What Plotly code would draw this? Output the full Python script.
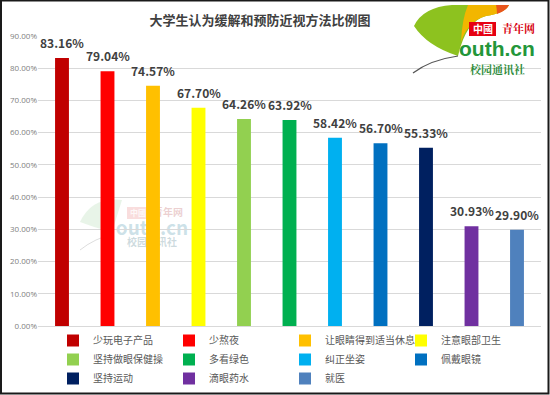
import plotly.graph_objects as go

title = "大学生认为缓解和预防近视方法比例图"
categories = ["少玩电子产品", "少熬夜", "让眼睛得到适当休息", "注意眼部卫生",
              "坚持做眼保健操", "多看绿色", "纠正坐姿", "佩戴眼镜",
              "坚持运动", "滴眼药水", "就医"]
values = [83.16, 79.04, 74.57, 67.70, 64.26, 63.92, 58.42, 56.70, 55.33, 30.93, 29.90]
colors = ["#C00000", "#FF0000", "#FFC000", "#FFFF00", "#92D050", "#00B050",
          "#00B0F0", "#0070C0", "#002060", "#7030A0", "#4F81BD"]
y_ticks = [0, 10, 20, 30, 40, 50, 60, 70, 80, 90]
y_tick_labels = [f"{v:.2f}%" for v in y_ticks]

FONT = "Noto Sans CJK SC, Open Sans, sans-serif"

fig = go.Figure()
for cat, val, col in zip(categories, values, colors):
    fig.add_trace(go.Bar(
        x=[cat], y=[val], name=cat, marker=dict(color=col, line=dict(width=0)),
        width=0.305, hoverinfo="name+y",
    ))

# data labels
for cat, val in zip(categories, values):
    fig.add_annotation(x=cat, y=val, text=f"{val:.2f}%", showarrow=False,
                       xanchor="center", yanchor="bottom", yshift=5,
                       font=dict(family=FONT, size=12, color="#404040", weight="bold"))

L, R, T, B = 38, 9, 36, 69
W, H = 550, 395
pw, ph = W - L - R, H - T - B

def px(xpix):
    return (xpix - L) / pw

def py(ypix):
    return (H - B - ypix) / ph

def path(pts):
    s = ""
    for cmd, coords in pts:
        s += cmd + " " + " ".join(f"{px(x):.5f},{py(y):.5f}" for x, y in coords) + " "
    return s + "Z"

def logo_text(txt, cx, cy, size, color, family):
    fig.add_annotation(xref="paper", yref="paper", x=px(cx), y=py(cy), text=txt,
                       xanchor="center", yanchor="middle", showarrow=False,
                       font=dict(family=family, size=size, color=color, weight="bold"))

# faint watermark in the middle (below traces)
fig.add_shape(type="path", xref="paper", yref="paper", layer="below",
              path=path([("M", [(80, 222)]), ("Q", [(92, 196), (122, 200)]),
                         ("L", [(112, 232)]), ("Q", [(95, 228), (80, 222)])]),
              fillcolor="rgba(150,205,150,0.22)", line=dict(width=0))
fig.add_shape(type="path", xref="paper", yref="paper", layer="below",
              path=f"M {px(80)},{py(250)} Q {px(95)},{py(238)} {px(114)},{py(234)}",
              line=dict(color="rgba(120,120,120,0.25)", width=1))
fig.add_shape(type="rect", xref="paper", yref="paper", layer="below",
              x0=px(127), x1=px(149), y0=py(219), y1=py(207),
              fillcolor="rgba(230,120,120,0.25)", line=dict(width=0))
wm = [
    ("中國", 138, 213, 8, "rgba(255,255,255,0.8)"),
    ("青年网", 168, 213, 10, "rgba(200,120,120,0.35)"),
    ("outh.cn", 152, 229, 19, "rgba(110,170,190,0.35)"),
    ("校园通讯社", 152, 243, 10, "rgba(110,150,160,0.35)"),
]
for txt, cx, cy, sz, c in wm:
    fig.add_shape(type="rect", xref="paper", yref="paper",
                  x0=px(cx - 40), x1=px(cx + 40), y0=py(cy + 8), y1=py(cy - 8),
                  line=dict(width=0), fillcolor="rgba(0,0,0,0)", layer="below",
                  label=dict(text=txt, font=dict(family="Noto Sans CJK SC", size=sz, color=c,
                                                  weight="bold"),
                             textposition="middle center"))

# top-right logo: ginkgo leaf
fig.add_shape(type="path", xref="paper", yref="paper",
              path=path([("M", [(414, 26)]), ("Q", [(423, 7), (452, 5)]),
                         ("L", [(509, 5)]), ("Q", [(505, 13), (486, 16)]),
                         ("Q", [(466, 21), (458, 56)]), ("Q", [(427, 46), (414, 26)])]),
              fillcolor="#8DC21F", line=dict(width=0))
fig.add_shape(type="path", xref="paper", yref="paper",
              path=path([("M", [(468, 5)]), ("L", [(509, 5)]), ("Q", [(505, 13), (486, 16)]),
                         ("Q", [(468, 21), (461, 42)]), ("Q", [(462, 19), (468, 5)])]),
              fillcolor="#F2B600", line=dict(width=0))
fig.add_shape(type="path", xref="paper", yref="paper",
              path=path([("M", [(496, 5)]), ("L", [(509, 5)]), ("Q", [(506, 11), (497, 14)]),
                         ("Q", [(497, 9), (496, 5)])]),
              fillcolor="#E8551C", line=dict(width=0))
fig.add_shape(type="path", xref="paper", yref="paper",
              path=f"M {px(413)},{py(73)} Q {px(430)},{py(60)} {px(458)},{py(56)}",
              line=dict(color="#555555", width=1.2))
fig.add_shape(type="rect", xref="paper", yref="paper",
              x0=px(469), x1=px(496), y0=py(36), y1=py(22),
              fillcolor="#E60012", line=dict(width=0))
logo_text("中國", 482.5, 28.5, 10, "white", "Noto Sans CJK SC")
logo_text("青年网", 518, 28, 11, "#D7000F", "Noto Serif CJK SC, Noto Sans CJK SC")
logo_text("outh.cn", 497, 48.5, 21, "#23963A", "Arial, Liberation Sans")
logo_text("校园通讯社", 497, 69.5, 11, "#2E8B3A", "Noto Serif CJK SC, Noto Sans CJK SC")

# outer dark frame
fig.add_shape(type="rect", xref="paper", yref="paper",
              x0=px(1), x1=px(548.5), y0=py(393.5), y1=py(0.5),
              line=dict(color="#1a1a1a", width=2), fillcolor="rgba(0,0,0,0)")

fig.update_layout(
    width=W, height=H,
    margin=dict(l=L, r=R, t=T, b=B, autoexpand=False),
    paper_bgcolor="white", plot_bgcolor="white",
    barmode="overlay",
    title=dict(text=title, x=260 / W, xref="container", xanchor="center",
               y=1 - 20 / H, yanchor="middle",
               font=dict(family=FONT, size=13, color="#404040", weight="bold")),
    xaxis=dict(showticklabels=False, showgrid=False, zeroline=False,
               showline=True, linecolor="#D9D9D9", linewidth=1, ticks=""),
    yaxis=dict(range=[0, 90], tickvals=y_ticks, ticktext=y_tick_labels,
               showgrid=True, gridcolor="#D9D9D9", gridwidth=1, zeroline=False,
               showline=False, ticks="",
               tickfont=dict(family="Open Sans, sans-serif", size=8, color="#808080")),
    legend=dict(orientation="h", x=px(53), xanchor="left", y=py(326), yanchor="top",
                entrywidth=71, entrywidthmode="pixels", itemwidth=30,
                font=dict(family=FONT, size=10, color="#595959"),
                tracegroupgap=0, bgcolor="rgba(0,0,0,0)"),
    showlegend=True,
)

fig.write_html("out.html", config={"displayModeBar": False},
               post_script="document.body.style.margin='0';document.body.style.overflow='hidden';")
